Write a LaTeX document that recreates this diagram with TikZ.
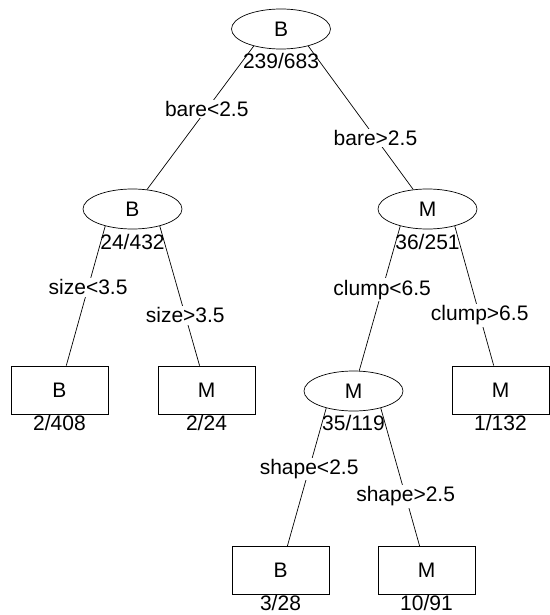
\documentclass[tikz,border=0pt]{standalone}
\usepackage{fontspec}
\setmainfont{Liberation Sans}
\usetikzlibrary{shapes.geometric}
\tikzset{
split/.style={ % Sets the properties for inner nodes
draw, ellipse,
minimum width=99pt, minimum height=40pt,
inner sep=0pt},
leaf/.style={ % Sets the properties for terminal nodes
draw, rectangle,
minimum width=97pt, minimum height=48pt,
inner sep=0pt},
count/.style={inner sep=0pt}, % Misclassified / total below each node
rule/.style={fill=white, inner sep=1.5pt},
every edge/.style={ % Sets the properties for each split line
draw,
line width=0.7pt}}

\begin{document}
\begin{tikzpicture}[x=1pt, y=-1pt, line width=0.7pt,
every node/.append style={font=\fontsize{21}{24}\selectfont}]
\useasboundingbox (0,0) rectangle (549,615);
\node[split] (root) at (281,29) {B};
\node[count] (root-n) at (281,61) {239/683};
\node[split] (L) at (132.5,209) {B};
\node[count] (L-n) at (132.5,242) {24/432};
\node[split] (R) at (427.5,209) {M};
\node[count] (R-n) at (427.5,242) {36/251};
\node[leaf] (LL) at (59.5,390) {B};
\node[count] (LL-n) at (59.5,423) {2/408};
\node[leaf] (LR) at (206.5,390) {M};
\node[count] (LR-n) at (206.5,423) {2/24};
\node[split] (RL) at (353.5,391) {M};
\node[count] (RL-n) at (353.5,423) {35/119};
\node[leaf] (RR) at (500.5,390) {M};
\node[count] (RR-n) at (500.5,423) {1/132};
\node[leaf] (RLL) at (280.5,570.5) {B};
\node[count] (RLL-n) at (280.5,603) {3/28};
\node[leaf] (RLR) at (426.5,570.5) {M};
\node[count] (RLR-n) at (426.5,603) {10/91};
\draw (root.-148) edge node[rule, pos=0.44] {bare<2.5} (L);
\draw (root.-32) edge node[rule, pos=0.64] {bare>2.5} (R);
\draw (L.-148) edge node[rule, pos=0.44] {size<3.5} (LL);
\draw (L.-32) edge node[rule, pos=0.64] {size>3.5} (LR);
\draw (R.-148) edge node[rule, pos=0.44] {clump<6.5} (RL);
\draw (R.-32) edge node[rule, pos=0.64] {clump>6.5} (RR);
\draw (RL.-148) edge node[rule, pos=0.44] {shape<2.5} (RLL);
\draw (RL.-32) edge node[rule, pos=0.64] {shape>2.5} (RLR);
\end{tikzpicture}
\end{document}
